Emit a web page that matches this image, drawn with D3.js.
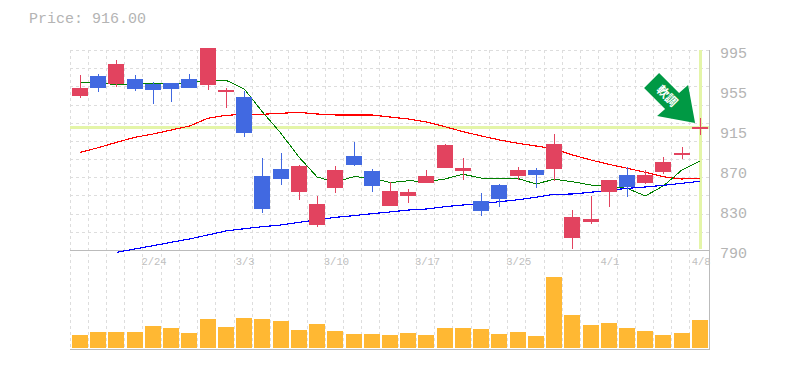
<!DOCTYPE html>
<html>
<head>
<meta charset="utf-8">
<script src="https://cdn.jsdelivr.net/npm/d3@7"></script>
<style>
body { margin: 0; background: #fff; }
svg { display: block; }
text { font-family: "Liberation Mono", monospace; fill: #b4b4b4; opacity: 0.999; }
</style>
</head>
<body>
<div id="chart"></div>
<script>
const dates = ["2/18","2/19","2/20","2/21","2/24","2/25","2/26","2/27","2/28","3/3","3/4","3/5","3/6","3/7","3/10","3/11","3/12","3/13","3/14","3/17","3/18","3/19","3/21","3/24","3/25","3/26","3/27","3/28","3/31","4/1","4/2","4/3","4/4","4/7","4/8"];
const dateLabels = ["2/24","3/3","3/10","3/17","3/25","4/1","4/8"];

const opens = [947.9,968.4,960.2,965.3,960.2,961.2,965.3,959.1,952,946.8,865.9,873,849.4,815.6,853.6,886.4,871,835.1,845.4,858.7,874.1,871,840.2,856.6,865.9,872,873,802.3,818.7,849.4,866.9,858.7,869.9,887.4,914];
const closes = [956.1,956.1,980.7,955,954,955,956.1,997.1,954,909.9,832,862.8,876.1,837.1,872,877.1,855.6,850.5,849.4,865.9,897.6,874.1,830,842.3,872,866.9,898.7,823.8,821.8,861.8,854.6,866.9,880.2,889.4,916];
const highs = [969.4,970.4,984.8,969.4,962.2,961.2,970.4,997.1,956.1,953,884.3,889.4,877.1,845.4,876.1,900.7,873,859.7,852.5,872,898.7,884.3,848.4,857.7,875.1,874.1,908.9,831,845.4,861.8,875.1,872,885.3,895.6,925.3];
const lows = [945.8,952,957.1,953,939.7,941.7,956.1,954,935.6,905.8,827.9,856.6,841.3,813.6,848.4,876.1,849.4,835.1,838.2,858.7,874.1,861.8,824.9,834.1,861.8,853.6,860.7,791,816.7,834.1,844.3,857.7,867.9,883.3,907.9];
const ma5 = [962.2,962.2,959.1,960.9,960.9,960.9,961.2,964,964,955,931.5,909.9,885.3,864.8,859.7,865.1,864.1,859,861,860,862.8,867.6,863.8,862.8,863.3,857.7,862.5,860,856.6,854.9,853.2,845.4,855.9,872,881.2];
const ma25 = [890.1,894.9,900.4,905.5,908.9,913,917.1,925,928,929.1,929.1,930.1,931.1,929.4,928.4,928.4,928.4,926.3,924.3,921.2,916.4,911.3,906.9,902.8,899.4,896.6,893.5,887.4,882.3,877.8,873.8,869.6,865.1,862.8,863.5];
const ma75 = [null,null,787.6,791,794.4,797.9,801.3,805.4,809.5,811.8,813.9,815.6,818.4,820.8,823.5,825.2,827.2,829,831,832,834.4,836.1,837.5,839.5,841.5,844,847.1,847.4,849.2,851.2,853.2,854.6,856.3,858.4,860.4];
const volume = [13,16,16,16,22,20,15,29,21,30,29,27,18,24,17,14,14,13,15,13,20,20,19,14,16,12,71,33,23,25,20,17,13,15,28];
const priceTicks = [995,954,913,872,831,790];
const priceLabels = ["995","955","915","870","830","790"];
const lastPrice = 916;

const width = 785, height = 370;
const plotLeft = 71, plotRight = 709.2, plotTop = 50, priceBottom = 250, volBottom = 348;

const svg = d3.select("#chart").append("svg")
    .attr("width", width)
    .attr("height", height);

const x = d3.scaleBand().domain(dates).range([plotLeft, plotRight]);
const y = d3.scaleLinear().domain([790, 995]).range([priceBottom, plotTop]);
const yVol = d3.scaleLinear().domain([0, 71]).range([volBottom, 277]);
const barLeft = d => Math.round(x(d) + 1);

// grid
const grid = svg.append("g")
    .attr("stroke", "#ddd")
    .attr("stroke-dasharray", "3,3")
    .attr("shape-rendering", "crispEdges");
d3.range(dates.length).forEach(i => {
    const gx = Math.floor(plotLeft + x.step() * i) - 0.5;
    grid.append("line").attr("x1", gx).attr("x2", gx).attr("y1", plotTop).attr("y2", 349);
});
d3.range(0, 11).forEach(i => {
    const gy = Math.round(plotTop + i * 200 / 11) + 0.5;
    grid.append("line").attr("x1", 70).attr("x2", 709).attr("y1", gy).attr("y2", gy);
});

// frame
const frame = svg.append("g").attr("stroke", "#bbb").attr("shape-rendering", "crispEdges");
frame.append("line").attr("x1", 70).attr("x2", 710).attr("y1", 250.5).attr("y2", 250.5);
frame.append("line").attr("x1", 70).attr("x2", 710).attr("y1", 349.5).attr("y2", 349.5);
frame.append("line").attr("x1", 709.5).attr("x2", 709.5).attr("y1", plotTop).attr("y2", 350);

// last price marker
svg.append("rect").attr("x", 70).attr("width", 639).attr("y", Math.round(y(lastPrice)) - 1).attr("height", 3).attr("fill", "#e4f5a8");
svg.append("rect").attr("x", Math.round(x("4/8") + x.bandwidth() / 2) - 1).attr("width", 3).attr("y", plotTop).attr("height", 199).attr("fill", "#e4f5a8");

// volume
svg.append("g").selectAll("rect").data(dates).join("rect")
    .attr("x", barLeft)
    .attr("width", 16)
    .attr("y", (d, i) => yVol(volume[i]))
    .attr("height", (d, i) => volBottom - yVol(volume[i]))
    .attr("fill", "#ffb833");

// moving averages
const line = d3.line()
    .defined(d => d.v !== null)
    .x(d => x(d.date) + x.bandwidth() / 2)
    .y(d => y(d.v));
[[ma25, "#f00", 1.15], [ma5, "#008000", 1], [ma75, "#00f", 1.15]].forEach(([values, color, sw]) => {
    svg.append("path")
        .datum(dates.map((date, i) => ({date, v: values[i]})))
        .attr("d", line)
        .attr("fill", "none")
        .attr("stroke", color)
        .attr("stroke-width", sw)
        .attr("shape-rendering", "crispEdges");
});

// candles
const candleColor = i => closes[i] >= opens[i] ? "#e2435f" : "#4169e1";
const candles = svg.append("g").selectAll("g").data(dates).join("g")
    .attr("shape-rendering", "crispEdges");
candles.append("rect")
    .attr("x", d => barLeft(d) + 8)
    .attr("width", 1)
    .attr("y", (d, i) => Math.round(y(highs[i])))
    .attr("height", (d, i) => Math.round(y(lows[i])) - Math.round(y(highs[i])))
    .attr("fill", (d, i) => candleColor(i));
candles.append("rect")
    .attr("x", barLeft)
    .attr("width", 16)
    .attr("y", (d, i) => Math.round(y(Math.max(opens[i], closes[i]))))
    .attr("height", (d, i) => Math.round(y(Math.min(opens[i], closes[i]))) - Math.round(y(Math.max(opens[i], closes[i]))))
    .attr("fill", (d, i) => candleColor(i));

// arrow
const tipX = x("4/8") + x.bandwidth() / 2 - 5, tipY = y(lastPrice) - 4;
const arrow = [[-36,-50],[-51,-35],[-30,-14],[-38,-7],[0,0],[-7,-38],[-16,-30]];
svg.append("path")
    .attr("d", d3.line()(arrow.map(p => [tipX + p[0], tipY + p[1]])) + "Z")
    .attr("fill", "#009944");
svg.append("text")
    .attr("transform", `translate(${tipX - 28},${tipY - 27}) rotate(45)`)
    .attr("text-anchor", "middle")
    .attr("dy", "0.35em")
    .style("font-family", '"Noto Sans CJK JP"')
    .style("font-weight", "700")
    .style("font-size", "12px")
    .style("fill", "#fff")
    .text("軟調");

// labels
svg.append("text").attr("x", 29).attr("y", 23).style("font-size", "15px").text("Price: " + lastPrice.toFixed(2));
svg.append("g").selectAll("text").data(priceTicks).join("text")
    .attr("x", 720)
    .attr("y", d => y(d) + 8)
    .style("font-size", "15px")
    .text((d, i) => priceLabels[i]);
svg.append("g").selectAll("text").data(dateLabels).join("text")
    .attr("x", d => x(d) + x.bandwidth() / 2 + 1)
    .attr("y", 265)
    .attr("text-anchor", "middle")
    .style("font-size", "10.5px")
    .style("fill", "#c0c0c0")
    .text(d => d);
</script>
</body>
</html>
